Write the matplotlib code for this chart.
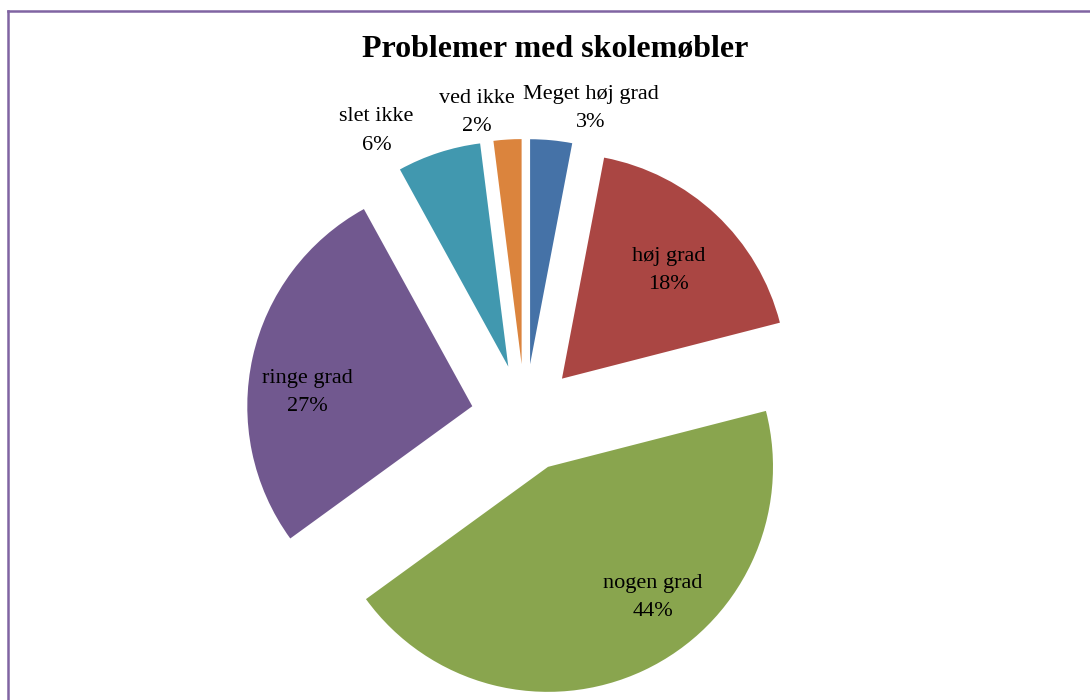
import numpy as np
import matplotlib
matplotlib.use("Agg")
import matplotlib.pyplot as plt
from matplotlib.lines import Line2D

title = "Problemer med skolemøbler"
categories = ["Meget høj grad", "høj grad", "nogen grad", "ringe grad", "slet ikke", "ved ikke"]
percents = [3, 18, 44, 27, 6, 2]
colors = ["#4572A7", "#AA4643", "#89A54E", "#71588F", "#4198AF", "#DB843D"]

# label placement relative to the exploded slice apex:
# distance in radii, angle shift in degrees (clockwise positive)
label_dist = [1.17, 0.675, 0.745, 0.735, 1.20, 1.135]
label_shift = [8.0, 1.4, -13.6, -7.7, -11.2, -6.4]

plt.rcParams["font.family"] = ["Liberation Serif", "DejaVu Serif"]


def main():
    fig = plt.figure(figsize=(10.9, 7.0), dpi=100)
    ax = fig.add_axes([0, 0, 1, 1])

    radius = 225
    wedges, _ = ax.pie(percents, colors=colors, startangle=90, counterclock=False,
                       explode=[0.24 * radius] * len(percents), center=(525, 282),
                       radius=radius, wedgeprops=dict(linewidth=0))

    # pie() resets the limits, so set them after
    ax.set_xlim(0, 1090)
    ax.set_ylim(0, 700)
    ax.set_aspect("equal")
    ax.axis("off")

    for w, cat, pct, d, s in zip(wedges, categories, percents, label_dist, label_shift):
        thetam = np.deg2rad((w.theta1 + w.theta2) / 2 - s)
        cx, cy = w.center
        x = cx + d * radius * np.cos(thetam)
        y = cy + d * radius * np.sin(thetam)
        ax.text(x, y, f"{cat}\n{pct}%", ha="center", va="center", fontsize=16,
                linespacing=1.65, color="black")

    fig.text(555 / 1090, 1 - 50 / 700, title, ha="center", va="center",
             fontsize=23, fontweight="bold")

    # chart frame (cut off on the right and bottom)
    fig.add_artist(Line2D([8 / 1090, 1], [1 - 11 / 700, 1 - 11 / 700],
                          transform=fig.transFigure, color="#8064A2", linewidth=1.8))
    fig.add_artist(Line2D([8 / 1090, 8 / 1090], [0, 1 - 11 / 700],
                          transform=fig.transFigure, color="#8064A2", linewidth=1.8))

    fig.savefig("out.png", dpi=100, facecolor="white")


main()
